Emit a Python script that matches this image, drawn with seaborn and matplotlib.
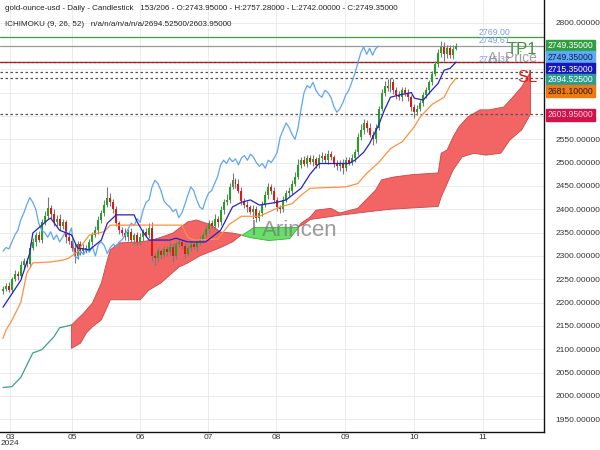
import numpy as np
import matplotlib
matplotlib.use("Agg")
import matplotlib.pyplot as plt
import matplotlib.transforms as mtransforms
import seaborn as sns

# ---------------- data ----------------
first_open = 2225.0
closes = [
    2230, 2236, 2228, 2250, 2262, 2258, 2280, 2290, 2282, 2318,
    2330, 2345, 2335, 2372, 2385, 2402, 2390, 2372, 2380, 2365,
    2372, 2340, 2332, 2318, 2300, 2325, 2310, 2318, 2315, 2330,
    2345, 2355, 2378, 2392, 2410, 2425, 2415, 2400, 2370, 2355,
    2350, 2340, 2352, 2335, 2345, 2330, 2340, 2352, 2345, 2360,
    2300, 2295, 2310, 2303, 2315, 2308, 2320, 2300, 2325, 2330,
    2322, 2305, 2318, 2325, 2320, 2330, 2335, 2345, 2358, 2370,
    2365, 2380, 2372, 2398, 2415, 2420, 2448, 2462, 2455, 2440,
    2418, 2410, 2405, 2395, 2400, 2382, 2392, 2410, 2430, 2448,
    2440, 2420, 2405, 2400, 2420, 2435, 2440, 2455, 2470, 2495,
    2505, 2498, 2510, 2502, 2508, 2495, 2510, 2515, 2505, 2518,
    2512, 2500, 2492, 2498, 2488, 2505, 2500, 2510, 2522, 2555,
    2570, 2585, 2575, 2560, 2550, 2575, 2615, 2650, 2665, 2660,
    2672, 2655, 2645, 2640, 2655, 2650, 2640, 2620, 2608, 2615,
    2628, 2645, 2655, 2672, 2690, 2712, 2735, 2748, 2732, 2745,
    2730, 2743.95, 2749.35,
]
wick_up = [
    6, 5, 8, 4, 7, 5, 9, 6, 5, 10,
    8, 6, 9, 7, 12, 25, 8, 10, 7, 9,
    8, 6, 10, 5, 9, 7, 6, 8, 5, 7,
    6, 9, 8, 7, 10, 23, 9, 6, 8, 5,
    7, 9, 6, 8, 5, 7, 9, 6, 8, 10,
    12, 6, 8, 5, 7, 6, 9, 8, 6, 7,
    5, 8, 6, 7, 5, 6, 8, 7, 9, 6,
    8, 10, 6, 9, 7, 12, 8, 15, 6, 9,
    7, 6, 8, 5, 9, 6, 7, 8, 10, 9,
    6, 8, 7, 5, 9, 6, 8, 7, 9, 12,
    8, 9, 6, 7, 8, 5, 9, 7, 6, 8,
    7, 5, 6, 8, 9, 7, 6, 8, 7, 9,
    12, 8, 6, 9, 7, 8, 6, 7, 9, 15,
    10, 8, 7, 9, 6, 8, 7, 5, 6, 8,
    7, 6, 8, 5, 7, 6, 9, 12, 10, 7,
    8, 9, 7.93,
]
wick_dn = [
    7, 5, 6, 8, 4, 9, 5, 7, 6, 5,
    6, 8, 5, 7, 6, 5, 9, 7, 8, 10,
    7, 12, 6, 8, 15, 7, 9, 6, 8, 5,
    6, 5, 7, 8, 6, 5, 7, 9, 6, 8,
    7, 6, 8, 5, 9, 7, 6, 8, 5, 7,
    10, 15, 7, 9, 6, 8, 5, 12, 7, 6,
    8, 10, 6, 7, 5, 9, 6, 7, 5, 8,
    6, 7, 9, 5, 8, 6, 7, 5, 9, 6,
    8, 7, 10, 6, 15, 9, 7, 6, 5, 8,
    7, 6, 9, 8, 6, 5, 7, 8, 6, 5,
    7, 6, 8, 5, 9, 7, 6, 8, 5, 7,
    6, 9, 8, 10, 12, 7, 6, 5, 8, 6,
    7, 8, 9, 6, 12, 7, 6, 5, 7, 6,
    8, 7, 9, 6, 8, 7, 9, 10, 12, 6,
    5, 7, 6, 8, 6, 5, 7, 9, 15, 8,
    6, 7, 1.95,
]

tenkan_bar = [0, 6, 9, 10, 15, 16, 19, 23, 25, 29, 33, 35, 38, 44, 45, 47, 49, 56, 58, 62,
              68, 73, 77, 80, 83, 86, 92, 95, 100, 103, 106, 116, 118, 121, 123, 126, 128, 130,
              133, 137, 138, 141, 143, 146, 148, 150, 152]
tenkan_val = [2190, 2248, 2306, 2349, 2377, 2381, 2355, 2345, 2317, 2313, 2334, 2370, 2388, 2388,
              2373, 2351, 2334, 2334, 2338, 2330, 2330, 2355, 2405, 2415, 2420, 2409, 2415, 2420,
              2445, 2475, 2498, 2498, 2505, 2522, 2541, 2580, 2613, 2640, 2645, 2650, 2638, 2634,
              2649, 2670, 2698, 2702, 2715.35]

kijun_bar = [0, 1, 3, 6, 8, 10, 16, 20, 22, 25, 27, 29, 32, 34, 36, 60, 62, 64, 72, 76,
             80, 86, 93, 97, 100, 103, 115, 119, 122, 126, 130, 134, 138, 140, 144, 148, 150, 152]
kijun_val = [2123, 2141, 2162, 2201, 2263, 2285, 2287, 2291, 2295, 2309, 2328, 2345, 2349, 2352,
             2366, 2366, 2340, 2334, 2336, 2368, 2385, 2385, 2405, 2412, 2430, 2445, 2448, 2455,
             2477, 2500, 2530, 2545, 2577, 2598, 2625, 2640, 2665, 2681.1]

senkou_a_bar = [0, 3, 6, 10, 13, 17, 19, 23, 27, 30, 33, 35, 36, 39, 46, 50, 53, 57, 62, 65,
                70, 73, 77, 80, 83, 89, 96, 100, 103, 105, 110, 113, 119, 125, 127, 131, 137, 146,
                147, 149, 151, 153, 156, 160, 163, 168, 171, 174, 177]
senkou_a_val = [2018, 2020, 2040, 2092, 2099, 2126, 2146, 2152, 2177, 2199, 2242, 2291, 2313, 2328,
                2330, 2334, 2340, 2349, 2373, 2377, 2366, 2351, 2349, 2345, 2340, 2334, 2338, 2370,
                2383, 2398, 2402, 2392, 2402, 2441, 2463, 2469, 2474, 2478, 2520, 2527, 2555, 2577,
                2598, 2613, 2613, 2619, 2640, 2662, 2694.525]

senkou_b_bar = [23, 26, 28, 30, 33, 35, 36, 46, 49, 53, 56, 59, 62, 66, 73, 77, 80, 84, 99, 101,
                103, 114, 123, 130, 146, 147, 149, 151, 154, 158, 162, 167, 170, 174, 177]
senkou_b_val = [2102, 2113, 2135, 2148, 2163, 2191, 2206, 2206, 2227, 2242, 2259, 2276, 2285, 2300,
                2318, 2330, 2345, 2362, 2362, 2368, 2378, 2388, 2395, 2400, 2406, 2426, 2455, 2484,
                2512, 2520, 2516, 2520, 2548, 2570, 2603.95]

chikou_shift = 26
month_ticks = [2.35, 23.2, 46.0, 68.8, 91.6, 114.8, 137.9, 161.1]
month_labels = ["03\n2024", "05", "06", "07", "08", "09", "10", "11"]

level_tp = 2769.00
level_last = 2749.61
level_ai = 2715.35
dashed_levels = [2694.525, 2681.10, 2603.95]

tags = [  # (text, colour, text colour, display level)
    ("2749.35000", "#2f9e41", "white", 2749.9),
    ("2749.35000", "#5fa8f5", "#10204a", 2725.2),
    ("2715.35000", "#1818b8", "white", 2700.5),
    ("2694.52500", "#2a9d8f", "white", 2677.0),
    ("2681.10000", "#f07a12", "#2a1500", 2653.4),
    ("2603.95000", "#d3124c", "#ffd6e0", 2602.0),
]

# ---------------- style ----------------
sns.set_style("whitegrid")
plt.rcParams['font.family'] = ['Liberation Sans', 'DejaVu Sans']

fig = plt.figure(figsize=(6, 4.5), dpi=100)
ax = fig.add_axes([0, 18 / 450, 544 / 600, 432 / 450])
ax.set_facecolor("white")

GREEN = "#1fa51f"
RED = "#e0161b"

# ---------------- cloud ----------------
grid = np.union1d(senkou_a_bar, senkou_b_bar)
grid = grid[grid >= senkou_b_bar[0]].astype(float)
a_g = np.interp(grid, senkou_a_bar, senkou_a_val)
b_g = np.interp(grid, senkou_b_bar, senkou_b_val)
ax.fill_between(grid, a_g, b_g, where=a_g >= b_g, interpolate=True,
                facecolor="#f36464", edgecolor="#c94848", linewidth=0.6, zorder=1)
ax.fill_between(grid, a_g, b_g, where=a_g < b_g, interpolate=True,
                facecolor="#66e066", edgecolor="#3fae3f", linewidth=0.6, zorder=1)

a_bar = np.array(senkou_a_bar)
a_val = np.array(senkou_a_val)
pre = a_bar <= senkou_b_bar[0]
sns.lineplot(x=a_bar[pre], y=a_val[pre], ax=ax, color="#3aa190", lw=0.9, zorder=2)

# ---------------- horizontal levels ----------------
ax.axhline(level_tp, color="#3f9f3f", lw=0.9, zorder=2)
ax.axhline(level_last, color="#9a9a9a", lw=0.9, zorder=2)
ax.axhline(level_ai, color="#d42020", lw=1.0, zorder=2)
ax.axhline(level_ai, color="#6a2a2a", lw=0.8, ls=(0, (2, 2)), zorder=2)
for lv in dashed_levels:
    ax.axhline(lv, color="#555555", lw=0.9, ls=(0, (2, 2)), zorder=2)

# ---------------- candles ----------------
c = np.array(closes, dtype=float)
n = len(c)
bars = np.arange(n)
o = np.r_[first_open, c[:-1]]
hi = np.maximum(o, c) + np.array(wick_up)
lo = np.minimum(o, c) - np.array(wick_dn)
col = np.where(c >= o, GREEN, RED)
ax.vlines(bars, lo, hi, color="#7a7a7a", lw=0.8, zorder=3)
ax.bar(bars, np.maximum(np.abs(c - o), 1.0), bottom=np.minimum(o, c), width=0.66,
       color=col, linewidth=0, zorder=4)

# ---------------- ichimoku lines ----------------
sns.lineplot(x=bars[:n - chikou_shift], y=c[chikou_shift:], ax=ax, color="#5ea6f2", lw=0.9, zorder=5)
sns.lineplot(x=kijun_bar, y=kijun_val, ax=ax, color="#ff9040", lw=0.9, zorder=5)
sns.lineplot(x=tenkan_bar, y=tenkan_val, ax=ax, color="#2222c6", lw=0.9, zorder=5)

# ---------------- axes ----------------
ax.set_xlim(-1.0, 181.5)
ax.set_ylim(1922.7, 2848.4)
yt = np.arange(1950, 2801, 50)
ax.set_yticks(yt)
ax.set_yticklabels(["" if 2600 <= t <= 2750 else f"{t:.5f}" for t in yt])
ax.yaxis.tick_right()
ax.tick_params(axis="y", length=0, pad=8, labelsize=6.0, labelcolor="#333333")
ax.set_xticks(month_ticks)
ax.set_xticklabels(month_labels)
ax.tick_params(axis="x", length=0, pad=1.5, labelsize=6.0, labelcolor="#333333")
for lab in ax.get_xticklabels():
    lab.set_linespacing(0.8)
ax.grid(True, color="#e8e8e8", lw=0.6)
ax.set_xlabel("")
ax.set_ylabel("")
for s in ["left", "top"]:
    ax.spines[s].set_visible(False)
for s in ["right", "bottom"]:
    ax.spines[s].set_visible(True)
    ax.spines[s].set_color("#111111")
    ax.spines[s].set_linewidth(1.0)
if ax.get_legend() is not None:
    ax.get_legend().remove()

# ---------------- annotations ----------------
ax.text(159.7, 2778.8, "2769.00", color="#7f9be8", fontsize=6.3, ha="left", va="center", zorder=6)
ax.text(159.7, 2760.6, "2749.61", color="#7f9be8", fontsize=6.3, ha="left", va="center", zorder=6)
ax.text(159.7, 2721.0, "2715.32", color="#7f9be8", fontsize=6.3, ha="left", va="center", zorder=6)
ax.text(179.2, 2724.0, "AI Price", color="#8c8c8c", fontsize=10, ha="right", va="center",
        alpha=0.85, zorder=7)
ax.text(179.2, 2743.4, "TP1", color="#3a9a3a", fontsize=12, ha="right", va="center", zorder=7)
ax.text(179.2, 2683.4, "SL", color="#e02020", fontsize=12, ha="right", va="center", zorder=7)

ax.text(86.8, 2355, "Arincen", color="#7a7a7a", fontsize=16, ha="left", va="center",
        alpha=0.75, zorder=8)
ax.text(85.2, 2357, "I", color="#7a7a7a", fontsize=16, ha="right", va="center",
        alpha=0.75, zorder=8)

trans = mtransforms.blended_transform_factory(ax.transAxes, ax.transData)
for txt, bg, fg, lv in tags:
    ax.text(1.006, lv, txt, transform=trans, fontsize=6.2, color=fg, ha="left", va="center",
            bbox=dict(boxstyle="square,pad=0.2", fc=bg, ec=bg), zorder=9, clip_on=False)

fig.text(5 / 600, 1 - 9 / 450,
         "gold-ounce-usd - Daily - Candlestick   153/206 - O:2743.95000 - H:2757.28000 - L:2742.00000 - C:2749.35000",
         fontsize=5.8, color="#222222", ha="left", va="center")
fig.text(5 / 600, 1 - 25 / 450,
         "ICHIMOKU (9, 26, 52)   n/a/n/a/n/a/n/a/2694.52500/2603.95000",
         fontsize=5.8, color="#222222", ha="left", va="center")

fig.savefig("out.png", dpi=100, facecolor="white")
